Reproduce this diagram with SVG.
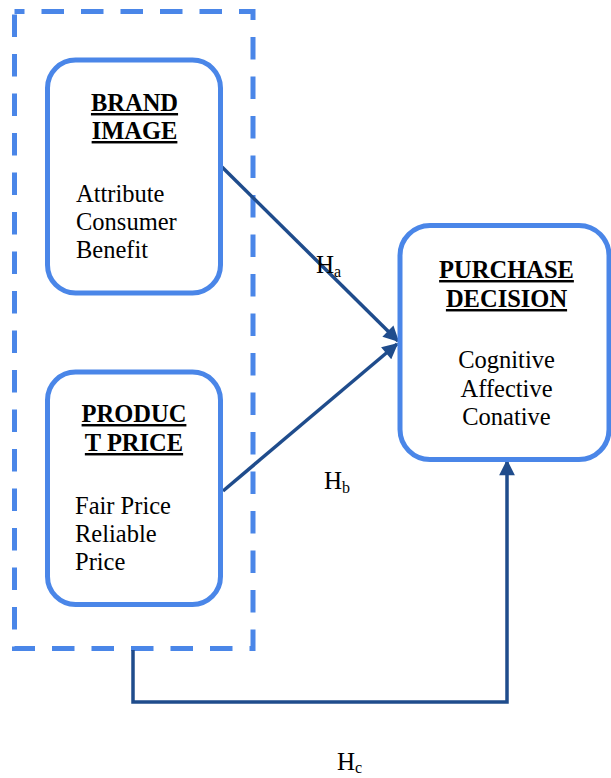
<svg xmlns="http://www.w3.org/2000/svg" width="611" height="778" viewBox="0 0 611 778">
<style>
.box{fill:#fff;stroke:#4a86e8;stroke-width:5}
.dash{fill:none;stroke:#4a86e8;stroke-width:5;stroke-dasharray:22.5 17;stroke-dashoffset:12.5}
.conn{fill:none;stroke:#1f4c8c;stroke-width:3.5}
text{font-family:'Liberation Serif','Times New Roman',serif;fill:#000}
.title{font-weight:bold;font-size:24.5px;text-anchor:middle;text-decoration:underline}
.body{font-size:24.5px}
.lbl{font-size:25px}
.sub{font-size:16px}
</style>
<defs>
<marker id="ah" viewBox="0 0 10 10" refX="9" refY="5" markerWidth="5" markerHeight="4.5" orient="auto" markerUnits="strokeWidth">
<path d="M0,0 L10,5 L0,10 z" fill="#1f4c8c"/>
</marker>
</defs>
<g id="group-frame">
<rect class="dash" x="14.5" y="11.5" width="238.5" height="637"/>
</g>
<g id="connectors">
<line class="conn" x1="222" y1="167" x2="398" y2="341" marker-end="url(#ah)"/>
<line class="conn" x1="223" y1="491" x2="397" y2="344" marker-end="url(#ah)"/>
<path class="conn" d="M133,650 V702 H507 V461" marker-end="url(#ah)"/>
</g>
<g id="brand-image">
<rect class="box" x="47.5" y="60" width="173" height="233" rx="28"/>
<text class="title" x="134.5" y="111" font-family="Liberation Serif, serif">BRAND</text>
<text class="title" x="134.5" y="139" font-family="Liberation Serif, serif">IMAGE</text>
<text class="body" x="76" y="202" font-family="Liberation Serif, serif">Attribute</text>
<text class="body" x="76" y="230" font-family="Liberation Serif, serif">Consumer</text>
<text class="body" x="76" y="258" font-family="Liberation Serif, serif">Benefit</text>
</g>
<g id="product-price">
<rect class="box" x="47.5" y="372" width="173" height="232.5" rx="28"/>
<text class="title" x="134" y="422" font-family="Liberation Serif, serif">PRODUC</text>
<text class="title" x="134" y="451" font-family="Liberation Serif, serif">T PRICE</text>
<text class="body" x="75" y="514" font-family="Liberation Serif, serif">Fair Price</text>
<text class="body" x="75" y="542" font-family="Liberation Serif, serif">Reliable</text>
<text class="body" x="75" y="570" font-family="Liberation Serif, serif">Price</text>
</g>
<g id="purchase-decision">
<rect class="box" x="400" y="225.5" width="209" height="234" rx="30"/>
<text class="title" x="506.5" y="278" font-family="Liberation Serif, serif">PURCHASE</text>
<text class="title" x="506.5" y="307" font-family="Liberation Serif, serif">DECISION</text>
<text class="body" x="506.5" y="368" text-anchor="middle" font-family="Liberation Serif, serif">Cognitive</text>
<text class="body" x="506.5" y="397" text-anchor="middle" font-family="Liberation Serif, serif">Affective</text>
<text class="body" x="506.5" y="425" text-anchor="middle" font-family="Liberation Serif, serif">Conative</text>
</g>
<g id="labels">
<text class="lbl" x="316" y="273" font-family="Liberation Serif, serif">H<tspan class="sub" dy="4">a</tspan></text>
<text class="lbl" x="324" y="489" font-family="Liberation Serif, serif">H<tspan class="sub" dy="4">b</tspan></text>
<text class="lbl" x="337" y="770" font-family="Liberation Serif, serif">H<tspan class="sub" dy="3">c</tspan></text>
</g>
</svg>
